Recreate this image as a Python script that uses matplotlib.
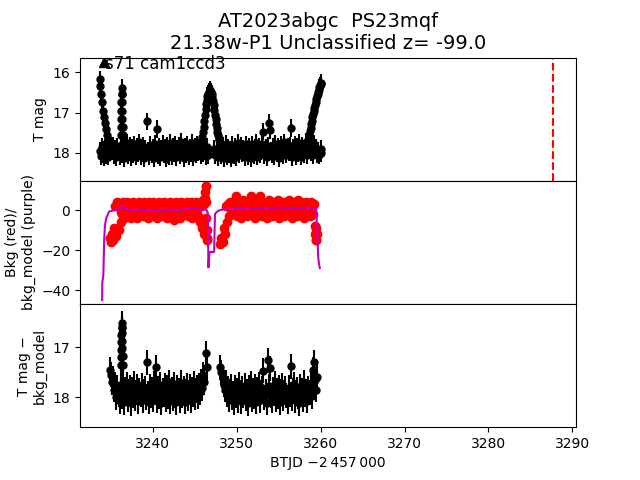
import matplotlib
matplotlib.use('Agg')
import matplotlib.pyplot as plt

# cadence times of the two orbits (BTJD)
t_orbit1 = [3234.900, 3235.025, 3235.150, 3235.275, 3235.400, 3235.525, 3235.650, 3235.775, 3235.900, 3236.025,
            3236.150, 3236.275, 3236.400, 3236.525, 3236.650, 3236.775, 3236.900, 3237.025, 3237.150, 3237.275,
            3237.400, 3237.525, 3237.650, 3237.775, 3237.900, 3238.025, 3238.150, 3238.275, 3238.400, 3238.525,
            3238.650, 3238.775, 3238.900, 3239.025, 3239.150, 3239.275, 3239.400, 3239.525, 3239.650, 3239.775,
            3239.900, 3240.025, 3240.150, 3240.275, 3240.400, 3240.525, 3240.650, 3240.775, 3240.900, 3241.025,
            3241.150, 3241.275, 3241.400, 3241.525, 3241.650, 3241.775, 3241.900, 3242.025, 3242.150, 3242.275,
            3242.400, 3242.525, 3242.650, 3242.775, 3242.900, 3243.025, 3243.150, 3243.275, 3243.400, 3243.525,
            3243.650, 3243.775, 3243.900, 3244.025, 3244.150, 3244.275, 3244.400, 3244.525, 3244.650, 3244.775,
            3244.900, 3245.025, 3245.150, 3245.275, 3245.400, 3245.525, 3245.650, 3245.775, 3245.900, 3246.025,
            3246.150, 3246.275, 3246.400]
t_orbit2 = [3248.050, 3248.175, 3248.300, 3248.425, 3248.550, 3248.675, 3248.800, 3248.925, 3249.050, 3249.175,
            3249.300, 3249.425, 3249.550, 3249.675, 3249.800, 3249.925, 3250.050, 3250.175, 3250.300, 3250.425,
            3250.550, 3250.675, 3250.800, 3250.925, 3251.050, 3251.175, 3251.300, 3251.425, 3251.550, 3251.675,
            3251.800, 3251.925, 3252.050, 3252.175, 3252.300, 3252.425, 3252.550, 3252.675, 3252.800, 3252.925,
            3253.050, 3253.175, 3253.300, 3253.425, 3253.550, 3253.675, 3253.800, 3253.925, 3254.050, 3254.175,
            3254.300, 3254.425, 3254.550, 3254.675, 3254.800, 3254.925, 3255.050, 3255.175, 3255.300, 3255.425,
            3255.550, 3255.675, 3255.800, 3255.925, 3256.050, 3256.175, 3256.300, 3256.425, 3256.550, 3256.675,
            3256.800, 3256.925, 3257.050, 3257.175, 3257.300, 3257.425, 3257.550, 3257.675, 3257.800, 3257.925,
            3258.050, 3258.175, 3258.300, 3258.425, 3258.550, 3258.675, 3258.800, 3258.925, 3259.050, 3259.175,
            3259.300, 3259.425, 3259.550]

# T mag (top panel) at the orbit cadences
mag_top = [17.78, 17.85, 17.95, 17.82, 18.05, 17.90, 18.10, 17.86, 17.97, 18.08,
           17.80, 18.02, 17.91, 18.12, 17.84, 17.99, 17.76, 18.06, 17.93, 17.82,
           18.11, 17.88, 18.03, 17.79, 17.96, 18.09, 17.85, 18.00, 17.74, 18.07,
           17.92, 17.83, 18.13, 17.89, 18.01, 17.22, 17.95, 18.08, 17.81, 17.99,
           18.04, 17.87, 18.12, 17.78, 17.94, 17.40, 18.06, 17.84, 18.10, 17.91,
           17.77, 18.03, 17.88, 18.14, 17.82, 17.97, 18.07, 17.75, 17.93, 18.09,
           17.86, 18.01, 17.80, 18.11, 17.90, 17.98, 17.83, 18.05, 17.72, 17.96,
           18.12, 17.85, 18.02, 17.79, 17.94, 18.08, 17.87, 18.00, 17.76, 18.10,
           17.92, 17.84, 18.04, 17.81, 17.97, 17.88, 17.95, 18.06, 17.83, 18.00,
           17.90, 18.08, 17.86,
           17.90, 18.05, 17.82, 18.12, 17.95, 17.78, 18.08, 17.88, 18.02, 17.92,
           18.14, 17.80, 17.98, 18.06, 17.86, 18.10, 17.94, 17.76, 18.04, 17.89,
           17.83, 18.00, 17.91, 18.11, 17.79, 17.97, 18.07, 17.85, 17.93, 18.13,
           17.81, 17.99, 18.05, 17.87, 17.75, 18.09, 17.90, 17.84, 18.02, 17.96,
           17.78, 17.47, 18.06, 17.88, 18.11, 17.82, 17.26, 17.43, 17.95, 18.03,
           17.86, 18.08, 17.77, 17.92, 18.01, 17.84, 18.12, 17.89, 17.80, 17.97,
           18.06, 17.74, 17.91, 18.04, 17.85, 17.99, 17.83, 17.38, 18.10, 17.88,
           17.93, 17.79, 18.07, 17.86, 18.00, 17.76, 17.95, 18.09, 17.82, 17.90,
           18.03, 17.87, 17.73, 18.06, 17.92, 17.81, 17.98, 17.85, 18.05, 17.78,
           17.94, 17.88, 18.02]
# bright episodes in the top panel (start, flare, orbit gap, end) plus cadences outside the orbits
t_top_extra = [3233.65, 3233.75, 3233.85, 3233.95, 3234.05, 3234.15, 3234.25, 3234.35, 3234.50, 3234.65, 3234.80,
               3233.70, 3233.80, 3233.90, 3234.00, 3234.10, 3234.20, 3234.30, 3234.40, 3234.55, 3234.70, 3234.85,
               3236.17, 3236.19, 3236.21, 3236.23, 3236.25, 3236.27, 3236.29, 3236.31, 3236.33, 3236.35,
               3236.37, 3236.39, 3236.41,
               3245.750, 3245.825, 3245.900, 3245.975, 3246.050, 3246.125, 3246.200, 3246.275, 3246.350, 3246.425,
               3246.500, 3246.575, 3246.650, 3246.800, 3246.950, 3247.025, 3247.100, 3247.175, 3247.250, 3247.325,
               3247.400, 3247.475, 3247.550, 3247.625, 3247.700, 3247.775, 3247.850, 3247.925, 3248.000, 3248.150,
               3246.50, 3246.60, 3247.30, 3247.45, 3247.60, 3247.75, 3247.90,
               3258.650, 3258.725, 3258.800, 3258.875, 3258.950, 3259.025, 3259.100, 3259.175, 3259.250, 3259.325,
               3259.400, 3259.475, 3259.550, 3259.625, 3259.700, 3259.775, 3259.850, 3259.925, 3260.000, 3260.100,
               3259.70, 3259.85, 3260.00, 3260.10]
mag_top_extra = [16.18, 16.35, 16.55, 16.75, 16.95, 17.12, 17.27, 17.40, 17.55, 17.65, 17.75,
                 17.95, 18.08, 17.85, 18.02, 17.92, 18.10, 17.88, 18.05, 17.94, 18.09, 17.90,
                 17.55, 17.35, 17.15, 16.95, 16.75, 16.55, 16.40, 16.55, 16.75, 16.95,
                 17.15, 17.35, 17.55,
                 17.80, 17.70, 17.60, 17.48, 17.35, 17.20, 17.05, 16.92, 16.80, 16.70,
                 16.60, 16.55, 16.50, 16.45, 16.50, 16.55, 16.62, 16.72, 16.82, 16.93,
                 17.05, 17.16, 17.28, 17.38, 17.48, 17.55, 17.62, 17.68, 17.75, 17.85,
                 17.95, 18.05, 17.90, 18.05, 17.95, 18.10, 17.85,
                 17.55, 17.46, 17.38, 17.29, 17.20, 17.11, 17.03, 16.95, 16.88, 16.81,
                 16.74, 16.67, 16.60, 16.54, 16.48, 16.43, 16.38, 16.34, 16.30, 16.27,
                 17.95, 18.05, 17.90, 18.00]
top_err = 0.22

# background flux (middle panel, red) at the orbit cadences
bkg = [-14, -16, -12, -15, -9, 2, -13, 4, -10, 3,
       -6, 1, 4, -4, 2, -1, 4, -3, 3, 0,
       -4, 2, 4, -2, 1, 3, -4, 0, 4, -2,
       2, -3, 4, 1, -1, 3, -4, 4, 0, 2,
       -3, 4, 1, -2, 3, -4, 2, 4, -1, 3,
       -3, 4, 0, 2, -4, 3, -1, 4, -2, 1,
       3, -5, 2, 4, -2, 0, 3, -4, 4, 1,
       -2, 3, -1, 4, -3, 2, 0, 4, -4, 1,
       3, -2, 4, 0, -3, 3, -6, 2, -9, 5,
       -12, 12, -15,
       -17, -14, -16, -9, -12, 2, -6, 3, -3, 4,
       0, 2, -2, 4, 1, 7, -3, 3, 0, 4,
       -4, 2, 5, -1, 3, -3, 4, 0, 2, 7,
       -2, 3, 1, -4, 4, 0, 2, -2, 7, 1,
       -3, 4, 0, 3, -4, 2, 5, -1, 3, -3,
       4, 1, -2, 3, 0, 5, -4, 2, 4, -1,
       3, -3, 4, 1, -2, 5, 0, 3, -4, 2,
       4, -1, 3, -3, 5, 1, -2, 4, 0, 3,
       -4, 2, 4, -1, 3, -3, 4, 1, -2, 3,
       -8, -15, -12]
# extra background cadences at the orbit edges
t_bkg_extra = [3245.95, 3246.05, 3246.20, 3246.24, 3246.30, 3246.33, 3246.36, 3246.45, 3246.50,
               3259.35, 3259.45, 3259.50]
bkg_extra = [-6, 3, 6, 9, 12, 4, -4, -10, -14,
             -12, -9, -15]

# T mag - bkg_model (bottom panel) at the orbit cadences
mag_sub = [17.45, 17.55, 17.70, 17.62, 17.85, 17.75, 18.00, 17.80, 17.95, 18.08,
           17.78, 17.98, 17.70, 18.10, 17.85, 17.92, 17.74, 18.05, 17.88, 17.80,
           18.12, 17.84, 17.97, 17.73, 18.03, 17.90, 17.79, 18.08, 17.86, 17.95,
           17.76, 18.06, 17.89, 17.82, 18.01, 17.30, 17.93, 18.09, 17.78, 17.96,
           17.85, 18.04, 17.72, 17.91, 17.40, 18.07, 17.83, 17.99, 17.75, 18.11,
           17.87, 17.94, 17.77, 18.05, 17.81, 17.98, 17.70, 18.08, 17.89, 17.84,
           18.02, 17.74, 17.96, 18.10, 17.80, 17.92, 17.86, 18.06, 17.71, 17.97,
           17.83, 18.09, 17.88, 17.76, 18.03, 17.90, 17.79, 18.07, 17.85, 17.95,
           17.73, 18.01, 17.87, 17.80, 17.98, 17.76, 17.90, 17.68, 17.82, 17.55,
           17.70, 17.12, 17.40,
           17.40, 17.50, 17.62, 17.75, 17.85, 17.70, 17.95, 17.82, 18.05, 17.88,
           17.78, 18.00, 17.92, 18.10, 17.80, 17.96, 17.86, 18.06, 17.74, 17.91,
           18.08, 17.83, 17.97, 17.77, 18.03, 17.89, 18.12, 17.81, 17.94, 17.72,
           18.04, 17.87, 17.99, 17.79, 18.09, 17.85, 17.93, 17.75, 18.06, 17.90,
           17.82, 17.47, 18.01, 17.88, 18.11, 17.26, 17.78, 17.42, 17.96, 18.07,
           17.84, 17.92, 17.73, 18.05, 17.86, 17.98, 17.80, 18.10, 17.89, 17.76,
           18.03, 17.91, 17.83, 17.97, 18.08, 17.81, 17.94, 17.38, 18.02, 17.87,
           17.74, 18.06, 17.90, 17.84, 17.99, 18.12, 17.79, 17.93, 17.86, 18.04,
           17.71, 17.95, 17.88, 18.07, 17.82, 17.90, 17.76, 17.98, 17.45, 17.30,
           17.66, 17.85, 17.60]
# flare cadences (bottom and middle panels)
t_flare = [3236.17, 3236.19, 3236.21, 3236.23, 3236.25, 3236.27, 3236.29, 3236.31, 3236.33, 3236.35,
           3236.37, 3236.39, 3236.41]
mag_sub_flare = [17.35, 17.20, 17.05, 16.90, 16.75, 16.62, 16.52, 16.60, 16.72, 16.88,
                 17.02, 17.18, 17.35]
bkg_flare = [1, 3, 0, 2, -1, 3, 1, -2, 2, 0,
             3, -1, 2]
sub_err = 0.25

# background model (purple line)
t_model = [3233.95, 3233.97, 3234.09, 3234.20, 3234.29, 3234.45, 3234.77, 3235.20, 3235.80, 3236.10,
           3236.30, 3236.60, 3237.00, 3238.00, 3239.00, 3240.00, 3241.00, 3242.00, 3243.00, 3244.00,
           3245.00, 3245.80, 3246.40, 3246.55, 3246.62, 3246.75, 3247.30, 3247.40, 3247.75, 3248.20,
           3249.00, 3250.00, 3251.00, 3252.00, 3253.00, 3254.00, 3255.00, 3256.00, 3257.00, 3258.00,
           3259.00, 3259.45, 3259.60, 3259.70, 3259.80, 3259.90]
bkg_model = [-45, -36, -33, -14, -7.5, -4, -0.8, -0.3, 0.2, 1.0,
             1.8, 0.6, 0.2, 0.0, 0.3, -0.2, 0.1, 0.3, 0.0, 0.4,
             0.6, 0.4, 0.0, -1.5, -28.7, -21, -21, -2.0, -0.5, 0.2,
             0.3, 0.5, 0.4, 0.8, 1.0, 0.7, 1.2, 1.0, 0.8, 1.1,
             1.0, 0.8, -10, -23, -27, -29]

t_disc = 3287.68
sector_label = 's71 cam1ccd3'
title = 'AT2023abgc  PS23mqf\n21.38w-P1 Unclassified z= -99.0'

t_orbits = t_orbit1 + t_orbit2

fig, (ax1, ax2, ax3) = plt.subplots(3, 1, sharex=True, figsize=(6.4, 4.8), dpi=100)
fig.subplots_adjust(hspace=0)

# top: T mag
ax1.errorbar(t_orbits, mag_top, yerr=top_err, fmt='o', color='k', ms=5)
ax1.errorbar(t_top_extra, mag_top_extra, yerr=top_err, fmt='o', color='k', ms=5)
ax1.axvline(t_disc, color='r', ls='--', lw=1.5)
ax1.plot([3234.13], [15.76], '^', color='k', ms=7)
ax1.text(3234.29, 15.80, sector_label, fontsize=12, va='center')
ax1.set_ylim(18.69, 15.64)
ax1.set_yticks([16, 17, 18])
ax1.set_ylabel('T mag')
ax1.set_title(title, fontsize=14)

# middle: background
ax2.plot(t_orbits, bkg, 'o', color='r', ms=6)
ax2.plot(t_bkg_extra, bkg_extra, 'o', color='r', ms=6)
ax2.plot(t_flare, bkg_flare, 'o', color='r', ms=6)
ax2.plot(t_model, bkg_model, color='m', lw=1.5)
ax2.set_ylim(-47, 14.6)
ax2.set_yticks([-40, -20, 0])
ax2.set_ylabel('Bkg (red)/\nbkg_model (purple)')

# bottom: T mag - bkg model
ax3.errorbar(t_orbits, mag_sub, yerr=sub_err, fmt='o', color='k', ms=5)
ax3.errorbar(t_flare, mag_sub_flare, yerr=sub_err, fmt='o', color='k', ms=5)
ax3.set_ylim(18.6, 16.14)
ax3.set_yticks([17, 18])
ax3.set_ylabel('T mag \u2212\nbkg_model')
ax3.set_xlim(3231.31, 3290.44)
ax3.set_xticks([3240, 3250, 3260, 3270, 3280, 3290])
ax3.set_xlabel('BTJD \u22122\u2009457\u2009000')

plt.savefig('out.png')
